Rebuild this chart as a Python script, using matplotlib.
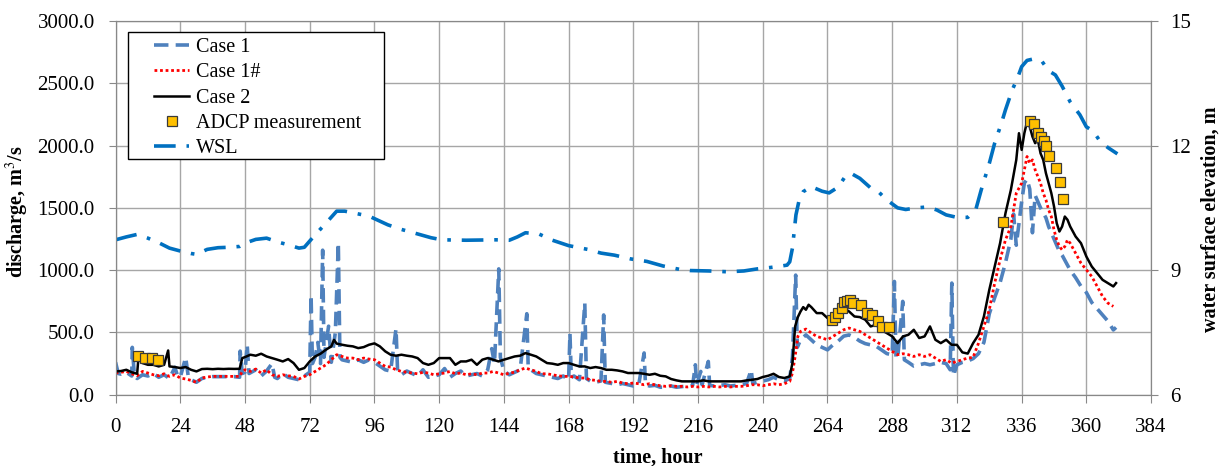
"""Discharge (Case 1 / Case 1# / Case 2 / ADCP) and water surface elevation vs time."""

import matplotlib
matplotlib.use("Agg")
import matplotlib.pyplot as plt
from matplotlib.patches import Rectangle
from matplotlib.ticker import FormatStrFormatter

# ── data ──────────────────────────────────────

case2_hours = [
    0, 2, 4, 6, 8, 8.5, 10, 12, 14, 16, 18, 19.5, 20, 22, 24, 26, 28, 30, 32, 34,
    36, 38, 40, 42, 44, 46, 47, 48, 50, 52, 54, 56, 58, 60, 62, 64, 66, 68, 70, 72,
    74, 76, 78, 80, 81, 82, 84, 86, 88, 90, 92, 94, 96, 98, 100, 102, 104, 106, 108,
    110, 112, 114, 116, 118, 120, 122, 124, 126, 128, 130, 132, 134, 136, 138, 140,
    142, 144, 146, 148, 150, 152, 154, 156, 158, 160, 162, 164, 166, 168, 170, 172,
    174, 176, 178, 180, 182, 184, 186, 188, 190, 192, 194, 196, 198, 200, 202, 204,
    206, 208, 210, 212, 214, 216, 218, 220, 222, 224, 226, 228, 230, 232, 234, 236,
    238, 240, 242, 244, 246, 248, 250, 251, 252, 253, 254, 255, 256, 257, 258, 260,
    262, 264, 266, 268, 270, 272, 274, 276, 278, 280, 282, 284, 286, 288, 290, 292,
    294, 296, 298, 300, 302, 304, 306, 308, 310, 312, 314, 316, 318, 320, 322, 324,
    326, 328, 330, 332, 334, 335, 336, 337, 338, 339, 340, 341, 342, 343, 344, 345,
    346, 347, 348, 349, 350, 351, 352, 353, 354, 356, 358, 360, 362, 364, 366, 368,
    370, 371,
]
case2_q = [
    187, 190, 200, 180, 168, 300, 254, 240, 240, 227, 240, 355, 227, 222, 214, 222,
    200, 187, 206, 208, 205, 208, 206, 208, 207, 208, 294, 302, 321, 313, 329, 307,
    294, 281, 267, 286, 254, 200, 214, 267, 307, 329, 361, 388, 440, 410, 401, 393,
    388, 374, 382, 401, 412, 388, 348, 321, 313, 321, 313, 307, 294, 254, 240, 254,
    294, 294, 294, 240, 267, 267, 281, 240, 281, 294, 281, 267, 281, 294, 307, 313,
    334, 321, 307, 281, 254, 249, 240, 254, 254, 240, 227, 227, 214, 222, 214, 200,
    200, 195, 187, 174, 174, 174, 168, 160, 168, 152, 147, 126, 115, 107, 107, 107,
    107, 115, 107, 107, 107, 107, 107, 107, 107, 115, 120, 126, 142, 152, 168, 142,
    134, 147, 254, 548, 623, 668, 703, 682, 722, 703, 655, 655, 615, 628, 668, 695,
    668, 628, 623, 602, 548, 561, 521, 495, 468, 414, 468, 481, 521, 455, 468, 548,
    441, 414, 441, 401, 400, 340, 330, 414, 481, 628, 842, 1029, 1216, 1457, 1644,
    1885, 2099, 1965, 2099, 2192, 2152, 2072, 2019, 2045, 1938, 1885, 1778, 1698,
    1618, 1511, 1377, 1310, 1350, 1430, 1404, 1350, 1270, 1216, 1109, 1029, 976, 922,
    896, 869, 896,
]

case1s_hours = [
    0, 2, 4, 6, 8, 10, 12, 14, 16, 18, 20, 22, 24, 26, 28, 30, 32, 34, 36, 38, 40,
    42, 44, 46, 47, 48, 50, 52, 54, 56, 58, 60, 62, 64, 66, 68, 70, 72, 74, 76, 78,
    80, 82, 84, 86, 88, 90, 92, 94, 96, 98, 100, 102, 104, 106, 108, 110, 112, 114,
    116, 118, 120, 122, 124, 126, 128, 130, 132, 134, 136, 138, 140, 142, 144, 146,
    148, 150, 152, 154, 156, 158, 160, 162, 164, 166, 168, 170, 172, 174, 176, 178,
    180, 182, 184, 186, 188, 190, 192, 194, 196, 198, 200, 202, 204, 206, 208, 210,
    212, 214, 216, 218, 220, 222, 224, 226, 228, 230, 232, 234, 236, 238, 240, 242,
    244, 246, 248, 250, 251, 252, 253, 254, 256, 258, 260, 262, 264, 266, 268, 270,
    272, 274, 276, 278, 280, 282, 284, 286, 288, 290, 292, 294, 296, 298, 300, 302,
    304, 306, 308, 310, 312, 314, 316, 318, 320, 322, 324, 326, 328, 330, 332, 334,
    336, 337, 338, 339, 340, 341, 342, 343, 344, 345, 346, 347, 348, 349, 350, 351,
    352, 353, 354, 356, 358, 360, 362, 364, 366, 368, 370,
]
case1s_q = [
    174, 180, 187, 168, 152, 187, 174, 160, 152, 168, 147, 160, 134, 126, 115, 99,
    134, 142, 147, 147, 147, 147, 147, 147, 187, 200, 187, 206, 174, 200, 160, 147,
    160, 152, 147, 126, 147, 160, 187, 214, 240, 281, 321, 307, 294, 294, 281, 294,
    286, 281, 254, 227, 222, 200, 187, 180, 174, 168, 180, 174, 160, 168, 174, 187,
    168, 174, 160, 168, 160, 174, 174, 187, 174, 160, 174, 180, 200, 214, 200, 187,
    168, 168, 160, 152, 147, 147, 142, 134, 134, 120, 115, 107, 107, 99, 107, 94,
    88, 94, 88, 80, 88, 80, 72, 67, 72, 67, 67, 62, 67, 62, 67, 62, 67, 62, 67, 62,
    67, 67, 72, 80, 80, 72, 80, 88, 80, 88, 107, 174, 307, 468, 508, 527, 495, 468,
    455, 441, 468, 495, 521, 535, 521, 508, 481, 455, 428, 401, 374, 348, 321, 329,
    321, 307, 321, 307, 321, 294, 267, 281, 254, 267, 281, 294, 300, 414, 548, 682,
    896, 1083, 1243, 1350, 1618, 1698, 1805, 1912, 1858, 1885, 1805, 1751, 1698,
    1618, 1564, 1484, 1430, 1323, 1243, 1190, 1163, 1190, 1243, 1216, 1136, 1056,
    1003, 949, 869, 789, 735, 709,
]

case1_hours = [
    0, 1, 2, 4, 6, 6.2, 7, 8, 10, 12, 14, 16, 18, 20, 22, 23, 24, 26, 27, 28, 30,
    32, 34, 36, 40, 44, 46, 46.2, 47, 48, 48.8, 49.5, 52, 54, 56, 58, 59, 60, 62,
    64, 66, 68, 70, 72, 72.5, 73, 74, 75, 76, 76.8, 77.3, 79, 80, 81.5, 82.6, 83.2,
    84, 86, 88, 90, 92, 94, 96, 98, 100, 102, 104, 104.6, 106, 108, 110, 112, 114,
    116, 118, 120, 122, 124, 126, 128, 130, 132, 134, 136, 138, 139.5, 140.5, 142.1,
    142.7, 144, 146, 148, 150, 152.5, 153, 154, 156, 158, 160, 162, 164, 166, 168,
    168.5, 169, 170, 172, 174, 174.6, 176, 178, 180, 181, 181.6, 184, 186, 188, 190,
    192, 194, 196, 196.5, 198, 200, 202, 204, 206, 208, 210, 212, 214, 215, 215.5,
    217, 217.5, 219.8, 220.3, 222, 224, 226, 228, 230, 232, 234, 235.7, 236.3, 238,
    240, 242, 244, 246, 248, 250, 251, 252.2, 252.8, 254, 256, 258, 260, 262, 264,
    266, 268, 270, 272, 274, 276, 278, 280, 282, 284, 286, 288, 288.8, 289.4, 290,
    291.9, 292.5, 294, 296, 298, 300, 302, 304, 306, 308, 309.5, 310.1, 310.7, 312,
    314, 316, 318, 320, 322, 324, 326, 328, 330, 332, 333, 334, 336, 337, 338, 339,
    340, 341, 342, 343, 344, 345, 346, 347, 348, 349, 350, 351, 352, 354, 356, 358,
    360, 362, 364, 366, 368, 370, 371,
]
case1_q = [
    260, 170, 165, 180, 150, 380, 150, 130, 160, 150, 170, 140, 160, 130, 220, 150,
    140, 300, 140, 120, 100, 130, 140, 145, 145, 145, 140, 350, 170, 180, 400, 170,
    200, 150, 190, 250, 140, 130, 170, 140, 130, 120, 150, 180, 800, 250, 300, 420,
    250, 1160, 300, 550, 260, 500, 1220, 300, 280, 270, 260, 280, 260, 280, 260, 230,
    200, 190, 530, 180, 160, 190, 170, 150, 200, 140, 150, 160, 210, 140, 170, 190,
    150, 160, 170, 150, 200, 370, 250, 1010, 300, 190, 160, 180, 200, 650, 230, 200,
    170, 160, 150, 140, 130, 150, 120, 490, 140, 150, 120, 735, 130, 110, 100, 110,
    640, 100, 90, 80, 90, 80, 70, 80, 335, 80, 70, 75, 60, 60, 70, 60, 65, 70, 75,
    240, 80, 187, 80, 267, 75, 70, 75, 80, 70, 75, 80, 90, 200, 90, 100, 110, 120,
    140, 120, 110, 130, 300, 960, 380, 440, 480, 440, 400, 380, 360, 400, 430, 470,
    480, 460, 430, 410, 400, 390, 360, 330, 320, 909, 300, 290, 749, 280, 260, 230,
    240, 250, 240, 250, 260, 250, 200, 896, 150, 240, 260, 270, 290, 330, 420, 650,
    780, 900, 1060, 1250, 1450, 1200, 1550, 1700, 1730, 1650, 1300, 1600, 1550, 1500,
    1460, 1420, 1350, 1300, 1250, 1200, 1150, 1120, 1080, 1000, 940, 870, 820, 740,
    690, 640, 590, 520, 540,
]

adcp_hours = [
    8.4, 10.9, 13.4, 15.9,
    265.5, 266.8, 268.0, 269.3, 270.1, 271.1, 272.4, 273.4, 276.3, 278.6, 280.5,
    282.6, 284.2, 286.7,
    329.1, 339.2, 340.5, 342.2, 343.3, 344.2, 345.2, 346.0, 348.7, 350.2, 351.4,
]
adcp_q = [
    307, 294, 294, 281,
    596, 623, 655, 695, 741, 749, 757, 735, 722, 655, 642, 588, 543, 543,
    1385, 2200, 2174, 2104, 2067, 2040, 1997, 1917, 1823, 1711, 1572,
]

wsl_hours = [
    0, 4, 8, 12, 16, 20, 24, 28, 30, 34, 38, 42, 46, 48, 52, 56, 60, 64, 68, 70, 72,
    74, 78, 82, 85, 88, 94, 97, 101, 106, 111, 117, 121, 130, 141, 146, 149, 152,
    157, 162, 168, 175, 180, 185, 191, 197, 203, 209, 213, 220, 227, 233, 238, 241,
    245, 249, 250, 251, 252.3, 253.5, 255, 258, 262, 264.6, 268, 271, 273, 276, 280,
    283, 286, 290, 293, 297, 301, 304.5, 308, 312, 316, 319, 321, 324, 326, 328.5,
    330, 332.5, 334.3, 336, 338, 340, 343.4, 346, 348.5, 351, 354, 357.6, 360, 362.5,
    365, 368, 371.5,
]
wsl_m = [
    9.73, 9.80, 9.86, 9.77, 9.66, 9.53, 9.46, 9.40, 9.38, 9.50, 9.54, 9.55, 9.57,
    9.65, 9.74, 9.77, 9.68, 9.61, 9.53, 9.55, 9.70, 9.85, 10.13, 10.42, 10.42, 10.38,
    10.30, 10.21, 10.09, 9.98, 9.89, 9.78, 9.73, 9.72, 9.73, 9.72, 9.80, 9.90, 9.87,
    9.72, 9.59, 9.50, 9.41, 9.36, 9.27, 9.21, 9.10, 9.02, 8.99, 8.98, 8.96, 8.98,
    9.03, 9.05, 9.08, 9.12, 9.20, 9.53, 10.33, 10.69, 10.89, 11.01, 10.90, 10.86,
    11.00, 11.30, 11.32, 11.21, 10.98, 10.88, 10.69, 10.50, 10.46, 10.50, 10.52,
    10.45, 10.33, 10.27, 10.27, 10.46, 10.93, 11.57, 12.06, 12.54, 12.86, 13.34,
    13.60, 13.90, 14.05, 14.08, 14.04, 13.80, 13.70, 13.43, 13.05, 12.74, 12.45,
    12.35, 12.11, 11.95, 11.80,
]

x_ticks = list(range(0, 385, 24))
q_ticks = [0, 500, 1000, 1500, 2000, 2500, 3000]
wsl_ticks = [6, 9, 12, 15]

# ── styling ───────────────────────────────────

_FONT = "Liberation Serif"
_GRID = "#a6a6a6"
_TICK = 15
_LABEL = 14.5
plt.rcParams["font.family"] = [_FONT, "DejaVu Serif"]
plt.rcParams["mathtext.fontset"] = "stix"


def _style_axis(ax, pad):
    for side in ("left", "right", "top", "bottom"):
        ax.spines[side].set_color("#888888")
    ax.tick_params(colors="#888888", labelcolor="black", labelsize=_TICK,
                   length=5, direction="out", pad=pad)


fig = plt.figure(figsize=(12.19, 4.66), dpi=100)
ax = fig.add_axes([0.0948, 0.153, 0.8495, 0.802])
ax2 = ax.twinx()

ax.plot(case1_hours, case1_q, color="#4f81bd", lw=2.6, ls=(0, (4, 2)),
        label="Case 1", zorder=2)
ax.plot(case1s_hours, case1s_q, color="#ff0000", lw=2.0, ls=(0, (1, 1)),
        label="Case 1#", zorder=3)
ax.plot(case2_hours, case2_q, color="black", lw=1.8, label="Case 2", zorder=4)
ax.plot(adcp_hours, adcp_q, ls="none", marker="s", ms=7.5, mfc="#ffc000",
        mec="#3a3a3a", mew=0.9, label="ADCP measurement", zorder=5)
ax2.plot(wsl_hours, wsl_m, color="#0070c0", lw=2.6, ls=(0, (6, 3, 1, 3)),
         label="WSL")

ax.set_xlim(0, 384)
ax.set_ylim(0, 3000)
ax.set_xticks(x_ticks)
ax.set_yticks(q_ticks)
ax.yaxis.set_major_formatter(FormatStrFormatter("%.1f"))
ax.grid(True, color=_GRID, lw=1.0)
ax.set_axisbelow(True)

ax2.set_ylim(6, 15)
ax2.set_yticks(wsl_ticks)

_style_axis(ax, pad=10)
_style_axis(ax2, pad=9)
ax.tick_params(axis="x", length=6, pad=11)

ax.set_xlabel("time, hour", fontsize=_LABEL, fontweight="bold", va="center")
ax.xaxis.set_label_coords(0.524, -0.167)
ax.set_ylabel("discharge, m$^3$/s", fontsize=_LABEL, fontweight="bold",
              va="center")
ax.yaxis.set_label_coords(-0.095, 0.49)
ax2.set_ylabel("water surface elevation, m", fontsize=_LABEL, fontweight="bold",
               va="center")
ax2.yaxis.set_label_coords(1.057, 0.47)

# legend: drawn frameless, with its box placed like the reference's
handles = ax.get_legend_handles_labels()[0] + ax2.get_legend_handles_labels()[0]
ax2.add_patch(Rectangle((0.012, 0.631), 0.247, 0.339, transform=ax2.transAxes,
                        facecolor="white", edgecolor="black", lw=1.0,
                        zorder=9, clip_on=False))
leg = ax2.legend(handles, [h.get_label() for h in handles],
                 loc="upper left", bbox_to_anchor=(0.0372, 0.955),
                 fontsize=14.5, frameon=False, handlelength=1.75,
                 handletextpad=0.35, labelspacing=0.31, borderpad=0,
                 borderaxespad=0)
leg.set_zorder(10)

fig.savefig("out.png", dpi=100)
